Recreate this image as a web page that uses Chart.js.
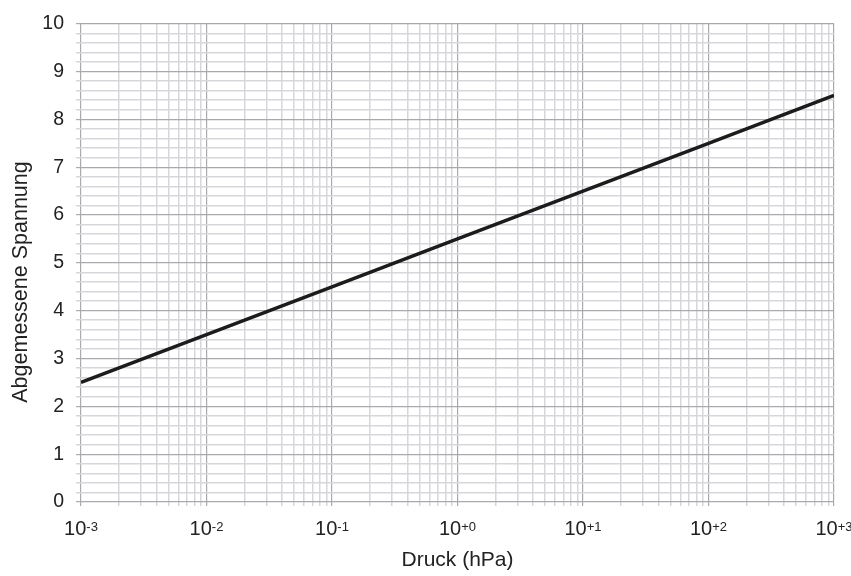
<!DOCTYPE html>
<html>
<head>
<meta charset="utf-8">
<script src="https://cdn.jsdelivr.net/npm/chart.js@4.4.1/dist/chart.umd.min.js"></script>
<style>html, body { margin: 0; padding: 0; background: #fff; }</style>
</head>
<body>
<canvas id="pressure-chart" width="851" height="576"></canvas>
<script>
// values
const pressure = [0.001, 0.01, 0.1, 1, 10, 100, 1000];
const voltage = [2.5, 3.5, 4.5, 5.5, 6.5, 7.5, 8.5];
const decadeExponents = ['-3', '-2', '-1', '+0', '+1', '+2', '+3'];
const minorSteps = [2, 3, 4, 5, 6, 7, 8, 9];
const yMajorTicks = [0, 1, 2, 3, 4, 5, 6, 7, 8, 9, 10];
const yMinorSteps = [0.2, 0.4, 0.6, 0.8];

const fontFamily = '"Liberation Sans", Arial, sans-serif';
const textColor = '#222';
const majorGrid = '#a9a9ae';
const minorGrid = '#d7d7db';

(function () {
    const ctx = document.getElementById('pressure-chart');

    // superscript decade labels and the rotated y title
    const axisLabels = {
        id: 'axisLabels',
        afterDraw(chart) {
            const c = chart.ctx;
            const xScale = chart.scales.x;
            c.save();
            c.fillStyle = textColor;
            c.textBaseline = 'alphabetic';
            c.textAlign = 'left';
            pressure.forEach(function (p, i) {
                const px = xScale.getPixelForValue(p);
                c.font = '20px ' + fontFamily;
                const wBase = c.measureText('10').width;
                c.font = '13px ' + fontFamily;
                const wExp = c.measureText(decadeExponents[i]).width;
                const left = px - (wBase + wExp) / 2;
                c.font = '20px ' + fontFamily;
                c.fillText('10', left, 535);
                c.font = '13px ' + fontFamily;
                c.fillText(decadeExponents[i], left + wBase, 531);
            });
            c.translate(27, 282);
            c.rotate(-Math.PI / 2);
            c.textAlign = 'center';
            c.font = '21.5px ' + fontFamily;
            c.fillText('Abgemessene Spannung', 0, 0);
            c.restore();
        }
    };

    new Chart(ctx, {
        type: 'line',
        data: {
            labels: pressure,
            datasets: [{
                label: 'Spannung',
                data: pressure.map((p, i) => ({x: p, y: voltage[i]})),
                borderColor: '#1c1c1c',
                borderWidth: 3.5,
                pointRadius: 0,
                tension: 0,
                fill: false,
            }],
        },
        options: {
            responsive: false,
            animation: false,
            layout: {padding: {top: 17, right: 17, left: 0, bottom: 0}},
            plugins: {
                legend: {display: false},
                tooltip: {enabled: false},
            },
            scales: {
                x: {
                    type: 'logarithmic',
                    min: 0.001,
                    max: 1000,
                    afterBuildTicks: function (scale) {
                        const ticks = [];
                        pressure.forEach(function (p, i) {
                            ticks.push({value: p, major: true});
                            if (i < pressure.length - 1) {
                                minorSteps.forEach(m => ticks.push({value: p * m, major: false}));
                            }
                        });
                        scale.ticks = ticks;
                    },
                    afterFit: function (scale) {
                        scale.height = 74;
                    },
                    ticks: {
                        autoSkip: false,
                        maxRotation: 0,
                        callback: () => '',
                    },
                    grid: {
                        color: c => (c.tick && c.tick.major) ? majorGrid : minorGrid,
                        lineWidth: c => (c.tick && c.tick.major) ? 1.2 : 1.5,
                        tickLength: 4,
                    },
                    border: {display: false},
                    title: {
                        display: true,
                        text: 'Druck (hPa)',
                        color: textColor,
                        font: {family: fontFamily, size: 21},
                        padding: {top: 0, bottom: 3},
                    },
                },
                y: {
                    type: 'linear',
                    min: 0,
                    max: 10,
                    afterBuildTicks: function (scale) {
                        const ticks = [];
                        yMajorTicks.forEach(function (v, i) {
                            ticks.push({value: v, major: true});
                            if (i < yMajorTicks.length - 1) {
                                yMinorSteps.forEach(s => ticks.push({value: v + s, major: false}));
                            }
                        });
                        scale.ticks = ticks;
                    },
                    afterFit: function (scale) {
                        scale.width = 81;
                    },
                    ticks: {
                        autoSkip: false,
                        padding: 12,
                        color: textColor,
                        font: {family: fontFamily, size: 19.5},
                        callback: v => yMajorTicks.includes(v) ? String(v) : '',
                    },
                    grid: {
                        color: c => (c.tick && c.tick.major) ? majorGrid : minorGrid,
                        lineWidth: c => (c.tick && c.tick.major) ? 1.2 : 1.5,
                        tickLength: 5,
                    },
                    border: {display: false},
                },
            },
        },
        plugins: [axisLabels],
    });
})();
</script>
</body>
</html>
